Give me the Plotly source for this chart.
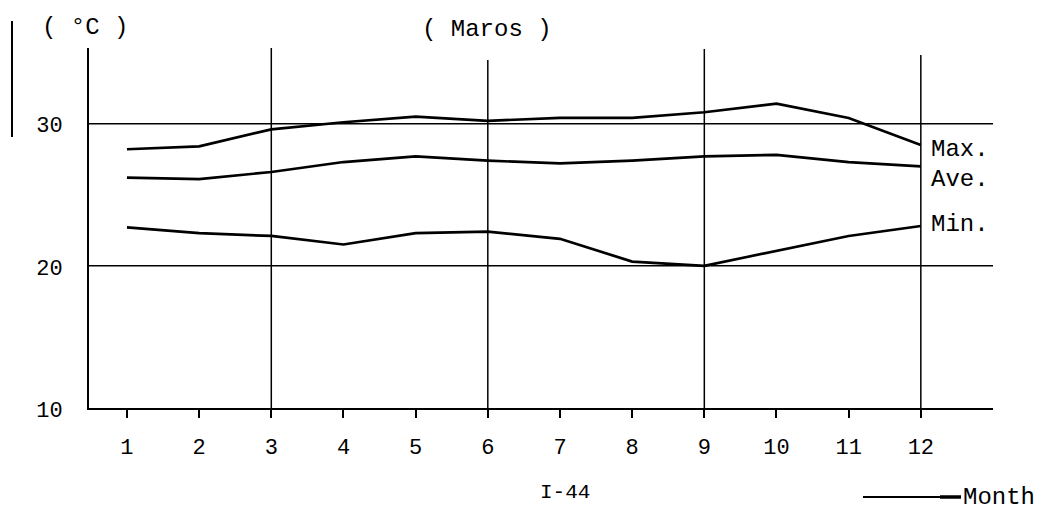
import plotly.graph_objects as go

months = list(range(1, 13))
month_labels = [str(m) for m in months]
t_max = [28.2, 28.4, 29.6, 30.1, 30.5, 30.2, 30.4, 30.4, 30.8, 31.4, 30.4, 28.5]
t_ave = [26.2, 26.1, 26.6, 27.3, 27.7, 27.4, 27.2, 27.4, 27.7, 27.8, 27.3, 27.0]
t_min = [22.7, 22.3, 22.1, 21.5, 22.3, 22.4, 21.9, 20.3, 20.0, 21.05, 22.1, 22.8]
y_ticks = [10, 20, 30]
series_names = ["Max.", "Ave.", "Min."]

W, H = 1043, 516
L, R, T, B = 89, 50, 48, 108
PW, PH = W - L - R, H - T - B
FONT = "Liberation Mono"


def px(x):
    return (x - L) / PW


def py(y):
    return (H - B - y) / PH


fig = go.Figure()
for name, vals in zip(series_names, [t_max, t_ave, t_min]):
    fig.add_trace(go.Scatter(x=months, y=vals, mode="lines", name=name,
                             line=dict(color="black", width=2.7),
                             showlegend=False, hoverinfo="x+y+name"))

shapes = []
# horizontal reference lines at 20 and 30
for yv in [20, 30]:
    shapes.append(dict(type="line", xref="x", yref="y", x0=0.38, x1=13.0,
                       y0=yv, y1=yv, line=dict(color="black", width=1.5)))
# vertical quarter lines
for m, top in zip([3, 6, 9, 12], [48, 60, 49, 55]):
    shapes.append(dict(type="line", xref="x", yref="paper", x0=m, x1=m,
                       y0=0, y1=py(top), line=dict(color="black", width=1.5)))
# month arrow line
shapes.append(dict(type="line", xref="paper", yref="paper", x0=px(863), x1=px(940),
                   y0=py(497), y1=py(497), line=dict(color="black", width=2)))
shapes.append(dict(type="line", xref="paper", yref="paper", x0=px(940), x1=px(961),
                   y0=py(497), y1=py(497), line=dict(color="black", width=3.5)))
# left margin bar
shapes.append(dict(type="line", xref="paper", yref="paper", x0=px(12), x1=px(12),
                   y0=py(21), y1=py(137), line=dict(color="black", width=2)))


def ann(text, x, y, size=24, xanchor="center"):
    return dict(text=text, x=px(x), y=py(y), xref="paper", yref="paper",
                xanchor=xanchor, yanchor="middle", showarrow=False,
                font=dict(size=size, family=FONT, color="black"))


annotations = [
    ann("( °C )", 85, 28),
    ann("( Maros )", 487, 30),
    ann("I-44", 565, 492, size=21),
    ann("Month", 961, 497, xanchor="left"),
]
label_offsets = [-0.35, -0.93, 0.14]
for name, vals, off in zip(series_names, [t_max, t_ave, t_min], label_offsets):
    annotations.append(dict(text=name, x=12.11, y=vals[-1] + off, xref="x", yref="y",
                            xanchor="left", yanchor="middle", showarrow=False,
                            font=dict(size=24, family=FONT, color="black")))

fig.update_layout(
    width=W, height=H, autosize=False,
    margin=dict(l=L, r=R, t=T, b=B),
    paper_bgcolor="white", plot_bgcolor="white",
    shapes=shapes, annotations=annotations,
    xaxis=dict(range=[0.474, 13.0], tickvals=months, ticktext=month_labels,
               ticks="outside", ticklen=8, tickwidth=1.5, tickcolor="black",
               showline=True, linecolor="black", linewidth=2,
               showgrid=False, zeroline=False, ticklabelstandoff=10,
               tickfont=dict(size=22, family=FONT, color="black")),
    yaxis=dict(range=[10, 35.32], tickvals=y_ticks,
               ticks="", showline=True, linecolor="black", linewidth=2,
               showgrid=False, zeroline=False, ticklabelstandoff=20,
               ticklabelshift=1,
               tickfont=dict(size=22, family=FONT, color="black")),
)

fig.write_html("out.html")
